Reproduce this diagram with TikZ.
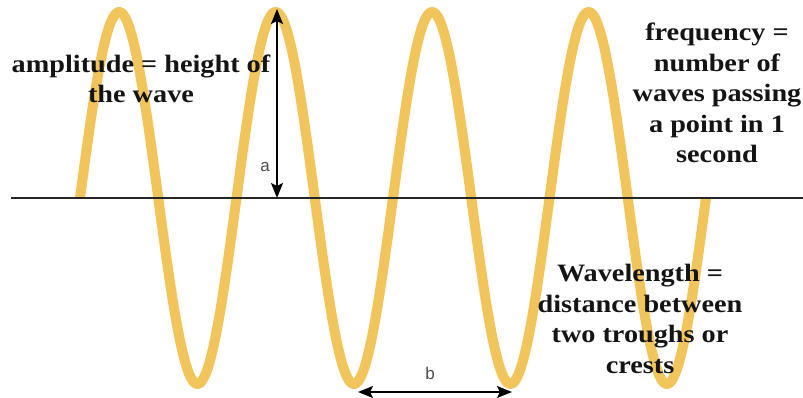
\documentclass[tikz,border=0pt]{standalone}
\usepackage{fontspec}
\usetikzlibrary{arrows.meta}
\newfontfamily\notefont{Liberation Serif}[FakeStretch=1.13]
\newfontfamily\dimfont{Liberation Sans}
\definecolor{waveyellow}{HTML}{F2C45C}
\tikzset{
  wave/.style={draw=waveyellow, line width=10pt, line cap=butt, line join=round},
  axisline/.style={draw=black!85, line width=1.6pt},
  dimarrow/.style={draw=black, line width=1.4pt, {Stealth[length=15pt,width=12pt,inset=3pt]}-{Stealth[length=15pt,width=12pt,inset=3pt]}},
  note/.style={font=\notefont\bfseries\fontsize{25}{30.5}\selectfont, align=center, text=black!92, inner sep=0pt},
  dimlabel/.style={font=\dimfont\fontsize{17}{20}\selectfont, text=black!70, inner sep=0pt}
}
\begin{document}
\begin{tikzpicture}[x=1pt,y=1pt]
\useasboundingbox (0,0) rectangle (803,398);
% wave
\draw[wave] plot[domain=0:4, samples=400, smooth] ({80+156.5*\x}, {200+186*sin(360*\x)});
% axis
\coordinate (axL) at (11,200);
\coordinate (axR) at (803,200);
\draw[axisline] (axL) -- (axR);
% amplitude arrow
\coordinate (abase) at (277,200);
\coordinate (atop) at (277,389);
\draw[dimarrow] (abase) -- (atop);
\node[dimlabel] (alabel) at (265,231) {a};
% wavelength arrow
\coordinate (bL) at (358,6);
\coordinate (bR) at (512,6);
\draw[dimarrow] (bL) -- (bR);
\node[dimlabel] (blabel) at (430,25) {b};
% notes
\node[note] (amp) at (141,319) {amplitude = height of\\the wave};
\node[note] (freq) at (717,305) {frequency =\\number of\\waves passing\\a point in 1\\second};
\node[note] (wl) at (640,79) {Wavelength =\\distance between\\two troughs or\\crests};
\end{tikzpicture}
\end{document}
